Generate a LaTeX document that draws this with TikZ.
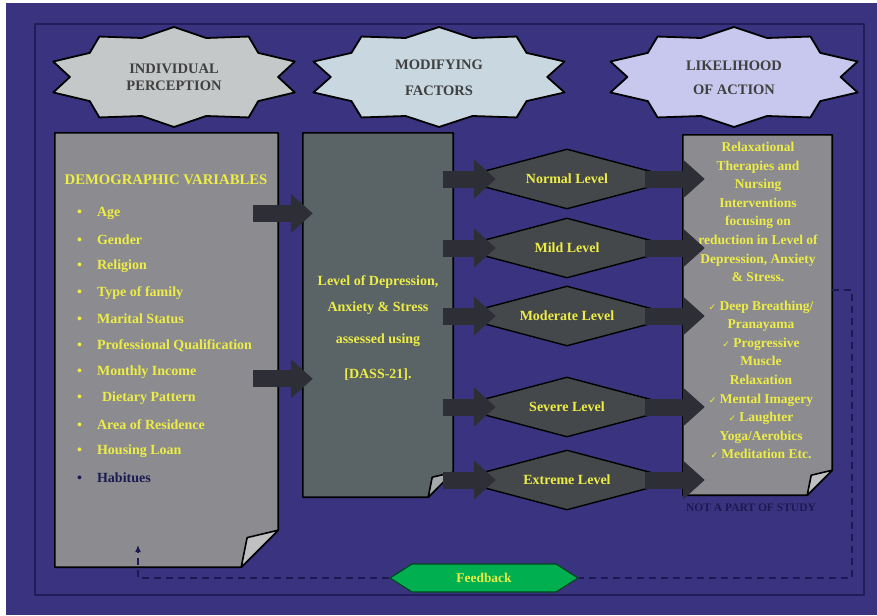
\documentclass[tikz,border=0pt]{standalone}
\usepackage{fontspec}
\setmainfont{Liberation Serif}
\newfontfamily\tickfont{DejaVu Sans}
\usetikzlibrary{shapes.geometric,shapes.symbols,arrows.meta,calc}

\definecolor{bgblue}{HTML}{3A3480}
\definecolor{framenavy}{HTML}{221D58}
\definecolor{txtyellow}{HTML}{EDED45}
\definecolor{pagegray}{HTML}{8C8C90}
\definecolor{slategray}{HTML}{5A6366}
\definecolor{levelgray}{HTML}{45484A}
\definecolor{fbgreen}{HTML}{00B050}
\definecolor{inknavy}{HTML}{1B1A52}
\definecolor{starA}{HTML}{C4C8C8}
\definecolor{starB}{HTML}{C8D7E0}
\definecolor{starC}{HTML}{C8C8EE}
\definecolor{arrowdark}{HTML}{2E2E36}

% page with a folded corner, drawn round an empty node
\newcommand\foldpage[3]{%
  \filldraw[pageline, fill=#3] (#1.north west) -- (#1.north east)
    -- ([yshift=#2]#1.south east) -- ([xshift=-#2]#1.south east)
    -- (#1.south west) -- cycle;
  \filldraw[pageline, fill=#3!55!white] ([yshift=#2]#1.south east)
    -- ([xshift=-0.84*#2, yshift=0.8*#2]#1.south east)
    -- ([xshift=-#2]#1.south east) -- cycle;}

% small tick for the technique list
\newcommand\tick{{\tickfont\fontsize{9}{9}\selectfont ✓}}

\begin{document}
\begin{tikzpicture}[
    x=1pt, y=-1pt,
    line join=round,
    starhead/.style={align=center, text=black!75, font=\bfseries\fontsize{14.5}{17}\selectfont},
    pagebox/.style={draw=none, inner sep=0pt},
    pageline/.style={draw=black, line width=1.6pt},
    vartitle/.style={text=txtyellow, font=\bfseries\fontsize{14.7}{16}\selectfont},
    listitem/.style={anchor=west, inner sep=0pt, text=txtyellow, font=\bfseries\fontsize{14}{15}\selectfont},
    midtext/.style={align=center, text=txtyellow, font=\bfseries\fontsize{14}{26}\selectfont},
    acttext/.style={align=center, text=txtyellow, inner sep=0pt, font=\bfseries\fontsize{13.5}{18.6}\selectfont},
    levelbox/.style={diamond, draw=black, line width=1.4pt, fill=levelgray, minimum width=225pt,
        minimum height=60pt, inner sep=0pt, aspect=3.75, text=txtyellow, font=\bfseries\fontsize{14}{14}\selectfont},
    fatarrow/.style={line width=17pt, draw=arrowdark, -{Triangle[length=22pt, width=38pt]}},
    feedline/.style={draw=inknavy, line width=1.8pt, dash pattern=on 7pt off 5pt},
    fbbox/.style={signal, signal to=west and east, signal pointer angle=65, draw=black!60!fbgreen,
        line width=1.2pt, fill=fbgreen, minimum width=188pt, minimum height=28pt, inner sep=0pt,
        text=txtyellow, font=\bfseries\fontsize{13.4}{13}\selectfont},
    notetext/.style={text=inknavy, font=\bfseries\fontsize{11.5}{11}\selectfont},
]

% ---- background and frame ----
\useasboundingbox (0,0) rectangle (877,615);
\fill[white] (0,0) rectangle (877,615);
\fill[bgblue] (6,3) rectangle (877,615);
\draw[framenavy, line width=1.8pt] (35,24) rectangle (864,595);

% ---- ten-point stars for the headings ----
\foreach \cx/\rx/\col in {174/127/starA, 439/132/starB, 734/130/starC}
    \filldraw[draw=black, line width=1.8pt, fill=\col]
    plot[domain=90:450, samples=21, variable=\t]
    ({\cx + \rx*(0.91+0.09*cos(10*(\t-90)))*cos(\t)}, {77 - 50*(0.91+0.09*cos(10*(\t-90)))*sin(\t)}) -- cycle;

\node[starhead] (perc) at (174,77) {INDIVIDUAL\\PERCEPTION};
\node[starhead, font=\bfseries\fontsize{14.5}{26}\selectfont] (modf) at (439,78) {MODIFYING\\FACTORS};
\node[starhead, font=\bfseries\fontsize{14.5}{24}\selectfont] (like) at (734,78) {LIKELIHOOD\\OF ACTION};

% ---- the three pages ----
\node[pagebox, minimum width=223pt, minimum height=434pt] (demo) at (166.5,350) {};
\node[pagebox, minimum width=150pt, minimum height=364pt] (mid) at (378,315) {};
\node[pagebox, minimum width=149pt, minimum height=360pt] (act) at (757.5,315) {};
\foldpage{demo}{37pt}{pagegray}
\foldpage{mid}{25pt}{slategray}
\foldpage{act}{25pt}{pagegray}

% demographic variables
\node[vartitle] (demtitle) at (166,180) {DEMOGRAPHIC VARIABLES};
\foreach \item [count=\i] in {Age, Gender, Religion, Type of family, Marital Status,
    Professional Qualification, Monthly Income, {\hspace{5pt}Dietary Pattern},
    Area of Residence, Housing Loan}
    \node[listitem] (var\i) at (77,{187+26.4*\i}) {\textbullet\hspace{15pt}\item};
\node[listitem, text=inknavy] (var11) at (77,477.4) {\textbullet\hspace{15pt}Habitues};

% modifying factors
\node[midtext] (dass) at (378,328) {Level of Depression,\\Anxiety \& Stress\\[6pt]assessed using\\[9pt][DASS-21].};

% likelihood of action
\node[acttext] (relax) at (758,212) {Relaxational\\Therapies and\\Nursing\\Interventions\\focusing on\\reduction in Level of\\Depression, Anxiety\\\& Stress.};
\node[acttext] (tech) at (761,380) {\tick\ Deep Breathing/\\Pranayama\\\tick\ Progressive\\Muscle\\Relaxation\\\tick\ Mental Imagery\\\tick\ Laughter\\Yoga/Aerobics\\\tick\ Meditation Etc.};
\node[notetext] (nopart) at (751,508) {NOT A PART OF STUDY};

% ---- arrows from the variables to the factors ----
\draw[fatarrow] ($(demo.east |- var1)+(-25,0)$) -- ($(mid.west |- var1)+(10,0)$);
\draw[fatarrow] ($(demo.east |- var7)+(-25,7)$) -- ($(mid.west |- var7)+(10,7)$);

% ---- levels ----
\foreach \lv/\y/\nm in {Normal/179/lvn, Mild/248/lvm, Moderate/316/lvd, Severe/407/lvs, Extreme/480/lve}
    \node[levelbox] (\nm) at (567,\y) {\lv\ Level};

\foreach \nm in {lvn, lvm, lvd, lvs, lve} {
    \draw[fatarrow] ($(mid.east |- \nm)+(-10,0)$) -- ($(\nm.west)+(42,0)$);
    \draw[fatarrow] ($(\nm.east)+(-35,0)$) -- ($(act.west |- \nm)+(22,0)$);
}

% ---- feedback loop ----
\node[fbbox] (fb) at (484,578) {Feedback};
\coordinate (loopTR) at (852,290);
\coordinate (fbin) at (138,545);
\draw[feedline] (act.east |- loopTR) -- (loopTR) |- (fb.east);
\draw[feedline, -{Latex[length=7pt, width=6pt]}] (fb.west) -| (fbin);

\end{tikzpicture}
\end{document}
